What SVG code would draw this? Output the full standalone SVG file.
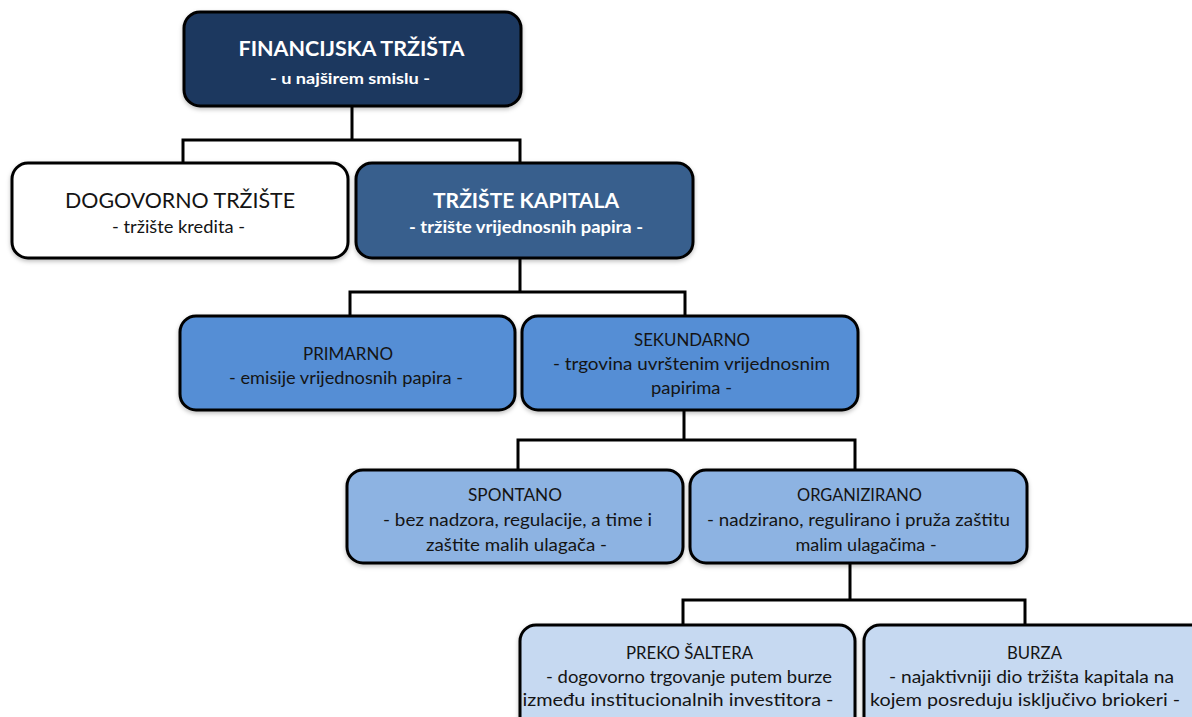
<svg xmlns="http://www.w3.org/2000/svg" width="1192" height="717" viewBox="0 0 1192 717">
<defs>
<style>
.box{stroke:#000;stroke-width:3}
.t{font-family:Lato,"Open Sans","Liberation Sans",sans-serif;text-anchor:middle}
.w{fill:#fff}
.k{fill:#141414}
.b{font-size:18px}
.conn{fill:none;stroke:#000;stroke-width:3}
</style>
<filter id="sh" x="-5%" y="-5%" width="110%" height="120%">
<feDropShadow dx="0" dy="2" stdDeviation="2" flood-color="#000" flood-opacity="0.25"/>
</filter>
</defs>
<rect width="1192" height="717" fill="#fff"/>
<g id="connectors" class="conn">
<path d="M352 106V140M183 163V140H520V163"/>
<path d="M520 258V292M350 316V292H685V316"/>
<path d="M684 410V440M518 470V440H855V470"/>
<path d="M850 563V600M683 625V600H1025V625"/>
</g>
<g id="n-financijska">
<rect class="box" x="184" y="12" width="337" height="94" rx="16" fill="#1d375e" filter="url(#sh)"/>
<text class="t w" x="351.5" y="56" font-size="21" font-weight="bold" textLength="226" lengthAdjust="spacingAndGlyphs">FINANCIJSKA TRŽIŠTA</text>
<text class="t w" x="350" y="84" font-size="16" font-weight="bold" textLength="160" lengthAdjust="spacingAndGlyphs">- u najširem smislu -</text>
</g>
<g id="n-dogovorno">
<rect class="box" x="12" y="163" width="336" height="95" rx="16" fill="#fff" filter="url(#sh)"/>
<text class="t k" x="180" y="208" font-size="21" textLength="230" lengthAdjust="spacingAndGlyphs">DOGOVORNO TRŽIŠTE</text>
<text class="t k" x="178.5" y="233" font-size="17" textLength="133" lengthAdjust="spacingAndGlyphs">- tržište kredita -</text>
</g>
<g id="n-kapital">
<rect class="box" x="356" y="163" width="337" height="95" rx="16" fill="#385e8d" filter="url(#sh)"/>
<text class="t w" x="526" y="208" font-size="21" font-weight="bold" textLength="186" lengthAdjust="spacingAndGlyphs">TRŽIŠTE KAPITALA</text>
<text class="t w" x="526" y="233" font-size="17" font-weight="bold" textLength="234" lengthAdjust="spacingAndGlyphs">- tržište vrijednosnih papira -</text>
</g>
<g id="n-primarno">
<rect class="box" x="180" y="316" width="335" height="94" rx="16" fill="#558ed5" filter="url(#sh)"/>
<text class="t k b" x="348" y="360" textLength="90" lengthAdjust="spacingAndGlyphs">PRIMARNO</text>
<text class="t k b" x="346" y="384" textLength="234" lengthAdjust="spacingAndGlyphs">- emisije vrijednosnih papira -</text>
</g>
<g id="n-sekundarno">
<rect class="box" x="522" y="316" width="336" height="94" rx="16" fill="#558ed5" filter="url(#sh)"/>
<text class="t k b" x="692" y="346" textLength="116" lengthAdjust="spacingAndGlyphs">SEKUNDARNO</text>
<text class="t k b" x="691.5" y="370" textLength="277" lengthAdjust="spacingAndGlyphs">- trgovina uvrštenim vrijednosnim</text>
<text class="t k b" x="691.5" y="394" textLength="81" lengthAdjust="spacingAndGlyphs">papirima -</text>
</g>
<g id="n-spontano">
<rect class="box" x="347" y="470" width="336" height="93" rx="16" fill="#8db3e2" filter="url(#sh)"/>
<text class="t k b" x="515" y="501" textLength="94" lengthAdjust="spacingAndGlyphs">SPONTANO</text>
<text class="t k b" x="517.5" y="526" textLength="269" lengthAdjust="spacingAndGlyphs">- bez nadzora, regulacije, a time i</text>
<text class="t k b" x="516.5" y="551" textLength="181" lengthAdjust="spacingAndGlyphs">zaštite malih ulagača -</text>
</g>
<g id="n-organizirano">
<rect class="box" x="690" y="470" width="337" height="93" rx="16" fill="#8db3e2" filter="url(#sh)"/>
<text class="t k b" x="859.5" y="501" textLength="125" lengthAdjust="spacingAndGlyphs">ORGANIZIRANO</text>
<text class="t k b" x="858.5" y="526" textLength="303" lengthAdjust="spacingAndGlyphs">- nadzirano, regulirano i pruža zaštitu</text>
<text class="t k b" x="866" y="551">malim ulagačima -</text>
</g>
<g id="n-preko">
<rect class="box" x="520" y="625" width="335" height="110" rx="16" fill="#c6d9f1" filter="url(#sh)"/>
<text class="t k b" x="689.5" y="659" textLength="127" lengthAdjust="spacingAndGlyphs">PREKO ŠALTERA</text>
<text class="t k b" x="689" y="683" textLength="286" lengthAdjust="spacingAndGlyphs">- dogovorno trgovanje putem burze</text>
<text class="t k b" x="678" y="706" textLength="311" lengthAdjust="spacingAndGlyphs">između institucionalnih investitora -</text>
</g>
<g id="n-burza">
<rect class="box" x="864" y="625" width="345" height="110" rx="16" fill="#c6d9f1" filter="url(#sh)"/>
<text class="t k b" x="1034.5" y="659" textLength="55" lengthAdjust="spacingAndGlyphs">BURZA</text>
<text class="t k b" x="1031.5" y="683" textLength="285" lengthAdjust="spacingAndGlyphs">- najaktivniji dio tržišta kapitala na</text>
<text class="t k b" x="1025" y="706" textLength="310" lengthAdjust="spacingAndGlyphs">kojem posreduju isključivo briokeri -</text>
</g>
</svg>
